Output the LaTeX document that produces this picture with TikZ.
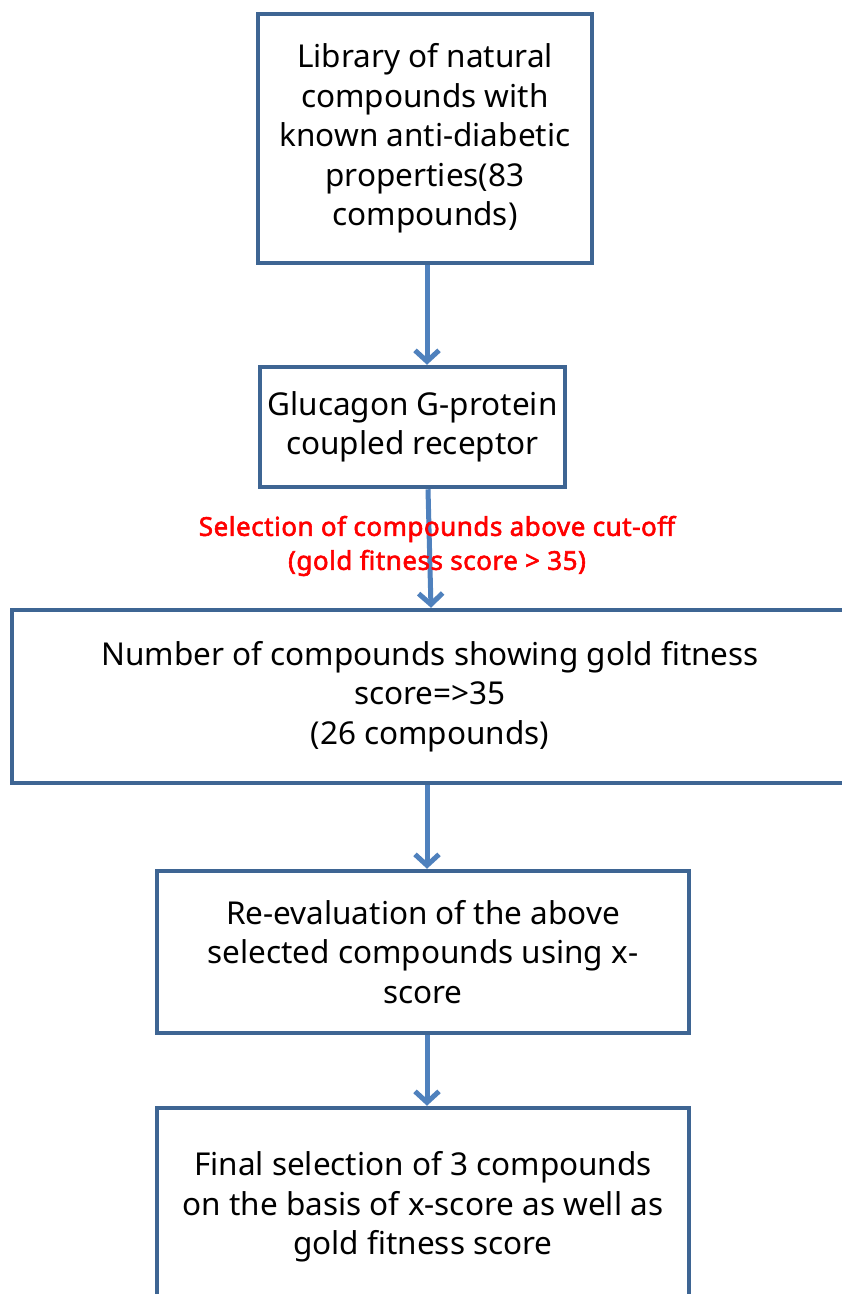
\documentclass[tikz,border=0pt]{standalone}
\usepackage{fontspec}
\setmainfont{Noto Sans}
\newfontfamily\redboldfont{Noto Sans}[FakeBold=2.2,LetterSpace=2]
\usetikzlibrary{arrows.meta}
\definecolor{boxline}{HTML}{3E6593}
\definecolor{arrowblue}{HTML}{4F81BD}
\definecolor{cutred}{HTML}{FF0000}
\tikzset{
  stepbox/.style={draw=boxline, line width=4.5pt, rectangle, align=center, inner sep=0pt,
    font=\fontsize{31.5}{39.5}\selectfont},
  flow/.style={draw=arrowblue, line width=5pt, -{Straight Barb[length=11pt,width=24pt]}},
  cutlabel/.style={text=cutred, align=center, font=\redboldfont\fontsize{26}{34}\selectfont, inner sep=0pt}
}
\begin{document}
\begin{tikzpicture}[x=1pt,y=-1pt]
\useasboundingbox (0,0) rectangle (842,1294);
\clip (0,0) rectangle (842,1294);
\fill[white] (0,0) rectangle (842,1294);
\node[stepbox, minimum width=334pt, minimum height=249pt] (lib) at (425,138.5)
  {Library of natural\\compounds with\\known anti-diabetic\\properties(83\\compounds)};
\node[stepbox, minimum width=305pt, minimum height=120pt] (gpcr) at (412.5,427)
  {Glucagon G-protein\\coupled receptor};
\node[stepbox, minimum width=836pt, minimum height=173pt] (num) at (430,696.5)
  {Number of compounds showing gold fitness\\score=>35\\(26 compounds)};
\node[stepbox, minimum width=532pt, minimum height=162pt] (reeval) at (423,952)
  {Re-evaluation of the above\\selected compounds using x-\\score};
\node[stepbox, minimum width=532pt, minimum height=198pt] (final) at (423,1207)
  {Final selection of 3 compounds\\on the basis of x-score as well as\\gold fitness score};
\draw[flow] (lib.south -| 427,0) -- (gpcr.north -| 427,0);
\draw[flow] (gpcr.south -| 428,0) -- (num.north -| 431,0);
\node[cutlabel] (sel) at (437,546) {Selection of compounds above cut-off\\(gold fitness score > 35)};
\draw[flow] (num.south -| 427,0) -- (reeval.north -| 427,0);
\draw[flow] (reeval.south -| 427,0) -- (final.north -| 427,0);
\end{tikzpicture}
\end{document}
